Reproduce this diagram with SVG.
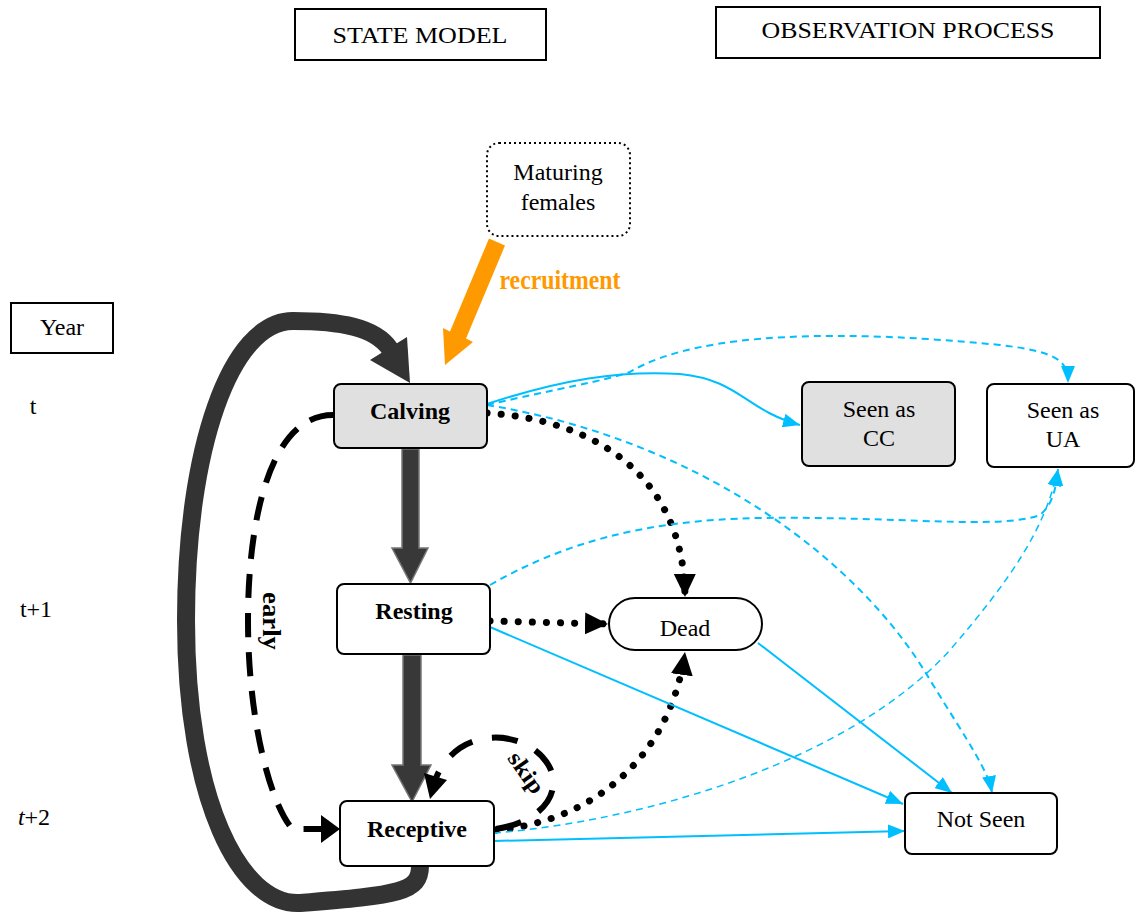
<svg xmlns="http://www.w3.org/2000/svg" width="1135" height="913" viewBox="0 0 1135 913">
<style>
.box{fill:#fff;stroke:#000;stroke-width:2}
.grey{fill:#e0e0e0;stroke:#000;stroke-width:2}
.t{font-family:"Liberation Serif","Times New Roman",serif;font-size:24px;fill:#000;text-anchor:middle}
.b{font-weight:bold}
.blue{fill:none;stroke:#00BFFF;stroke-width:2}
.bdash{fill:none;stroke:#00BFFF;stroke-width:2;stroke-dasharray:7 5}
.dots{fill:none;stroke:#000;stroke-width:7;stroke-linecap:round;stroke-dasharray:0.1 14}
.big{fill:#383838;stroke:#777;stroke-width:1.5}
</style>
<defs>
<marker id="ab" markerUnits="userSpaceOnUse" markerWidth="18" markerHeight="14" refX="17" refY="7" orient="auto"><path d="M0,0 L17,7 L0,14 z" fill="#00BFFF"/></marker>
<marker id="ak" markerUnits="userSpaceOnUse" markerWidth="24" markerHeight="24" refX="23" refY="12" orient="auto"><path d="M0,1 L23,12 L0,23 z" fill="#000"/></marker>
</defs>

<g id="header-state"><rect class="box" x="295" y="9" width="251" height="51"/><text class="t" x="420" y="43" textLength="175" lengthAdjust="spacingAndGlyphs">STATE MODEL</text></g>
<g id="header-obs"><rect class="box" x="716" y="7" width="384" height="51"/><text class="t" x="908" y="38" textLength="293" lengthAdjust="spacingAndGlyphs">OBSERVATION PROCESS</text></g>
<g id="year"><rect class="box" x="11" y="303" width="102" height="50"/><text class="t" x="62" y="335">Year</text></g>
<g id="time-labels">
<text class="t" x="33" y="414">t</text>
<text class="t" x="36" y="617">t+1</text>
<text class="t" x="34" y="825"><tspan font-style="italic">t</tspan>+2</text>
</g>

<g id="connectors">
<!-- big loop receptive -> calving -->
<path d="M420 866 C420 892 400 895 300 903 C240 906 186 800 186 620 C186 450 230 321 293 321 C340 321 375 327 390 349" fill="none" stroke="#333" stroke-width="18"/>
<polygon points="410,383 370,360 407,337" fill="#333"/>
<!-- orange recruitment -->
<polygon points="489,238.5 505,245.5 466,338.5 473,342 445,365 443,328 450,331.5" fill="#FF9900"/>
<text x="560" y="289" font-family="Liberation Serif,serif" font-weight="bold" font-size="27" fill="#FF9900" text-anchor="middle" textLength="121" lengthAdjust="spacingAndGlyphs">recruitment</text>
<!-- thick vertical arrows -->
<polygon class="big" points="402,449 419,449 419,548 428,548 410.5,583 392,548 402,548"/>
<polygon class="big" points="403,655 421,655 421,765 431,765 412,802 392,765 403,765"/>
<!-- early -->
<path d="M333 415 C270 415 248 520 248 620 C248 720 270 800 290 826 C293 830 300 829 322 829" fill="none" stroke="#000" stroke-width="6" stroke-dasharray="24 15"/>
<polygon points="340,829 321,815 321,843" fill="#000"/>
<text x="0" y="0" transform="translate(263,621) rotate(90)" font-family="Liberation Serif,serif" font-weight="bold" font-size="25" text-anchor="middle" textLength="58" lengthAdjust="spacingAndGlyphs">early</text>
<!-- skip -->
<path d="M496 829 C540 822 562 795 550 768 C535 738 490 728 460 748 C447 757 440 768 436 778" fill="none" stroke="#000" stroke-width="6" stroke-dasharray="26 20"/>
<polygon points="430,799 424,773 447,780" fill="#000"/>
<text x="0" y="0" transform="translate(520,777) rotate(55)" font-family="Liberation Serif,serif" font-weight="bold" font-size="23" text-anchor="middle" textLength="46" lengthAdjust="spacingAndGlyphs">skip</text>
<!-- dotted to Dead -->
<path class="dots" d="M487 413 C600 420 684 480 685 597" marker-end="url(#ak)"/>
<path class="dots" d="M490 621 L608 624" marker-end="url(#ak)"/>
<path class="dots" d="M496 830 C590 822 670 760 685 652" marker-end="url(#ak)"/>
<!-- blue observation -->
<path class="blue" d="M487 404 C560 380 620 370 680 374 C740 380 745 410 800 425" marker-end="url(#ab)"/>
<path class="bdash" d="M487 405 C560 388 600 382 630 372 C700 330 850 330 1000 345 C1060 352 1068 362 1068 383" marker-end="url(#ab)"/>
<path class="bdash" d="M487 405 C700 440 860 560 930 680 C970 745 988 770 992 793" marker-end="url(#ab)"/>
<path class="bdash" d="M490 585 C560 545 640 520 760 518 C900 516 1000 530 1040 515 C1052 505 1056 490 1058 469" marker-end="url(#ab)"/>
<path class="blue" d="M490 627 L903 804" marker-end="url(#ab)"/>
<path class="blue" d="M758 643 L952 793" marker-end="url(#ab)"/>
<path class="bdash" style="stroke-width:1.5" d="M494 833 C650 820 850 760 950 650 C1010 580 1045 530 1058 469" marker-end="url(#ab)"/>
<path class="blue" d="M494 841 L905 831" marker-end="url(#ab)"/>
</g>

<g id="maturing"><rect x="487" y="143" width="143" height="93" rx="12" fill="#fff" stroke="#000" stroke-width="2" stroke-dasharray="2 3"/><text class="t" x="558" y="180">Maturing</text><text class="t" x="558" y="210">females</text></g>
<g id="calving"><rect class="grey" x="334" y="384" width="153" height="64" rx="7"/><text class="t b" x="410" y="419">Calving</text></g>
<g id="resting"><rect class="box" x="337" y="584" width="153" height="70" rx="7"/><text class="t b" x="414" y="619">Resting</text></g>
<g id="receptive"><rect class="box" x="340" y="801" width="154" height="65" rx="7"/><text class="t b" x="417" y="837">Receptive</text></g>
<g id="dead"><rect class="box" x="609" y="598" width="153" height="52" rx="26"/><text class="t" x="685" y="636">Dead</text></g>
<g id="seen-cc"><rect class="grey" x="802" y="382" width="153" height="84" rx="7"/><text class="t" x="879" y="417">Seen as</text><text class="t" x="879" y="446">CC</text></g>
<g id="seen-ua"><rect class="box" x="987" y="384" width="147" height="83" rx="7"/><text class="t" x="1063" y="418">Seen as</text><text class="t" x="1063" y="447">UA</text></g>
<g id="not-seen"><rect class="box" x="905" y="793" width="152" height="61" rx="7"/><text class="t" x="981" y="827">Not Seen</text></g>
</svg>
